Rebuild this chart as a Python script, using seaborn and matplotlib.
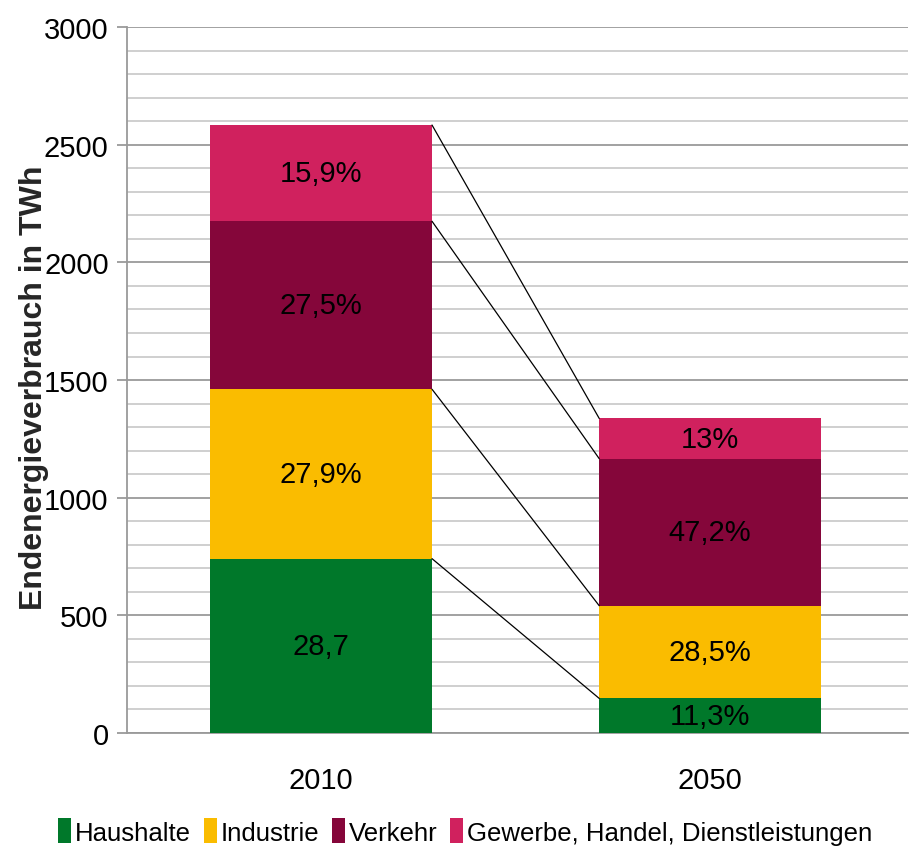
import pandas as pd
import numpy as np
import matplotlib
matplotlib.use("Agg")
import matplotlib.pyplot as plt
from matplotlib.patches import Patch
from matplotlib.ticker import MultipleLocator
import seaborn as sns

# Data (TWh)
years = ["2010", "2050"]
sectors = ["Haushalte", "Industrie", "Verkehr", "Gewerbe, Handel, Dienstleistungen"]
haushalte = [741, 147]
industrie = [720, 394]
verkehr = [714, 625]
gewerbe = [409, 171]
labels_2010 = ["28,7", "27,9%", "27,5%", "15,9%"]
labels_2050 = ["11,3%", "28,5%", "47,2%", "13%"]
colors = ["#00782A", "#FABC00", "#85063A", "#D0215E"]

sns.set_theme(style="white")
plt.rcParams['font.family'] = ['Liberation Sans', 'DejaVu Sans']
plt.rcParams['text.color'] = 'black'
plt.rcParams['xtick.color'] = 'black'
plt.rcParams['ytick.color'] = 'black'

values = np.array([haushalte, industrie, verkehr, gewerbe])  # sectors x years
cum = values.cumsum(axis=0)

rows = []
for s_i, s in enumerate(sectors):
    for y_i, y in enumerate(years):
        rows.append({"Jahr": y, "Sektor": s, "Wert": values[s_i, y_i],
                     "Kumuliert": cum[s_i, y_i]})
df = pd.DataFrame(rows)

fig = plt.figure(figsize=(9.12, 8.53), dpi=100)
ax = fig.add_axes([0.139, 0.1395, 0.857, 0.8275])

width = 0.57
# draw cumulative totals from top down so that segments stack
for s_i in reversed(range(len(sectors))):
    sub = df[df["Sektor"] == sectors[s_i]]
    sns.barplot(data=sub, x="Jahr", y="Kumuliert", order=years, color=colors[s_i],
                saturation=1, width=width, errorbar=None, ax=ax, zorder=3,
                linewidth=0)

# segment labels
all_labels = [labels_2010, labels_2050]
for y_i in range(len(years)):
    for s_i in range(len(sectors)):
        bottom = cum[s_i, y_i] - values[s_i, y_i]
        ax.text(y_i, bottom + values[s_i, y_i] / 2, all_labels[y_i][s_i],
                ha="center", va="center", fontsize=21, color="black", zorder=5)

# connector lines between the bars
for s_i in range(len(sectors)):
    ax.plot([0 + width / 2, 1 - width / 2], [cum[s_i, 0], cum[s_i, 1]],
            color="black", lw=0.9, zorder=4)

ax.set_ylim(0, 3000)
ax.set_xlim(-0.5, 1.51)
ax.yaxis.set_major_locator(MultipleLocator(500))
ax.yaxis.set_minor_locator(MultipleLocator(100))
ax.grid(which="major", axis="y", color="#9a9a9a", lw=1.3, zorder=0)
ax.grid(which="minor", axis="y", color="#cccccc", lw=1.3, zorder=0)
ax.grid(axis="x", visible=False)
ax.set_axisbelow(True)
ax.tick_params(axis="y", which="major", length=7, color="#9a9a9a", width=1.3,
               labelsize=21, pad=6, left=True)
ax.tick_params(axis="y", which="minor", length=0)
ax.tick_params(axis="x", length=0, labelsize=21, pad=24)
for side in ["top", "right"]:
    ax.spines[side].set_visible(False)
ax.spines["left"].set_color("#9a9a9a")
ax.spines["bottom"].set_color("#9a9a9a")
ax.spines["left"].set_linewidth(1.3)
ax.spines["bottom"].set_linewidth(1.3)

ax.set_xlabel("")
ax.set_ylabel("Endenergieverbrauch in TWh", fontsize=23, fontweight="bold")
ax.yaxis.set_label_coords(-0.1, 0.49)

handles = [Patch(facecolor=c, edgecolor="none") for c in colors]
fig.legend(handles, sectors, loc="center", bbox_to_anchor=(0.51, 0.024), ncol=4,
           frameon=False, fontsize=18.5, handlelength=0.5, handleheight=1.1,
           handletextpad=0.15, columnspacing=0.5, borderaxespad=0)

fig.savefig("out.png", dpi=100)
